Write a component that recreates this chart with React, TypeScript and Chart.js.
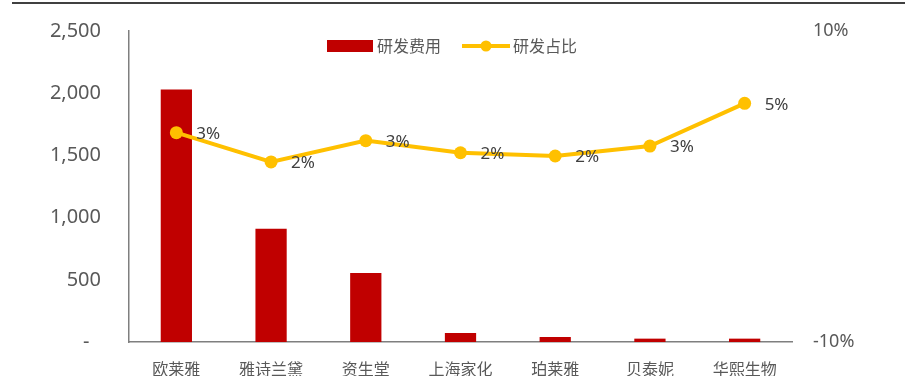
import React, { useEffect, useRef } from "react";
import { Chart, registerables } from "chart.js";
Chart.register(...registerables);

const categories = ["欧莱雅", "雅诗兰黛", "资生堂", "上海家化", "珀莱雅", "贝泰妮", "华熙生物"];
const rdExpense = [2030, 910, 555, 72, 40, 27, 27];
const rdRatio = [3.46, 1.58, 2.95, 2.17, 1.96, 2.6, 5.35];
const leftTicks = [0, 500, 1000, 1500, 2000, 2500];
const rightTicks = [-10, 10];
const seriesNames = ["研发费用", "研发占比"];

const BAR_COLOR = "#C00000";
const LINE_COLOR = "#FFC000";
const TEXT_COLOR = "#595959";
const FONT = "'Noto Sans', 'Noto Sans CJK SC', sans-serif";
const CJK_FONT = "'Noto Sans CJK SC', 'Noto Sans', sans-serif";

const decorPlugin = {
  id: "decor",
  afterDatasetsDraw(chart: any) {
    const ctx = chart.ctx;
    const meta = chart.getDatasetMeta(1);
    ctx.save();
    ctx.font = `17px ${FONT}`;
    ctx.fillStyle = "#404040";
    ctx.textAlign = "left";
    ctx.textBaseline = "middle";
    meta.data.forEach((pt: any, i: number) => {
      ctx.fillText(Math.round(rdRatio[i]) + "%", pt.x + 20, pt.y + 1.5);
    });
    ctx.restore();
  },
  afterDraw(chart: any) {
    const ctx = chart.ctx;
    ctx.save();
    ctx.fillStyle = "#404040";
    ctx.fillRect(12, 2, 893, 2);
    ctx.fillStyle = BAR_COLOR;
    ctx.fillRect(327, 40, 46, 12);
    ctx.font = `16px ${CJK_FONT}`;
    ctx.fillStyle = TEXT_COLOR;
    ctx.textAlign = "left";
    ctx.textBaseline = "middle";
    ctx.fillText(seriesNames[0], 377, 46);
    ctx.strokeStyle = LINE_COLOR;
    ctx.lineWidth = 4;
    ctx.beginPath();
    ctx.moveTo(462, 46);
    ctx.lineTo(510, 46);
    ctx.stroke();
    ctx.fillStyle = LINE_COLOR;
    ctx.beginPath();
    ctx.arc(486, 46, 5.5, 0, Math.PI * 2);
    ctx.fill();
    ctx.fillStyle = TEXT_COLOR;
    ctx.fillText(seriesNames[1], 513, 46);
    ctx.restore();
  },
};

export default function App() {
  const ref = useRef<HTMLCanvasElement | null>(null);
  useEffect(() => {
    if (!ref.current) return;
    const chart = new Chart(ref.current, {
      type: "bar",
      data: {
        labels: categories,
        datasets: [
          {
            type: "bar",
            label: seriesNames[0],
            data: rdExpense,
            backgroundColor: BAR_COLOR,
            yAxisID: "y",
            categoryPercentage: 1,
            barPercentage: 0.33,
            order: 1,
          },
          {
            type: "line",
            label: seriesNames[1],
            data: rdRatio,
            borderColor: LINE_COLOR,
            backgroundColor: LINE_COLOR,
            borderWidth: 4,
            pointRadius: 6.5,
            pointBackgroundColor: LINE_COLOR,
            pointBorderWidth: 0,
            yAxisID: "y1",
            order: 0,
          },
        ] as any,
      },
      options: {
        animation: false,
        responsive: false,
        layout: { padding: { top: 31, left: 0, right: 0, bottom: 0 } },
        plugins: { legend: { display: false }, tooltip: { enabled: false } },
        scales: {
          x: {
            grid: { display: false, drawTicks: false },
            border: { display: true, color: "#7f7f7f", width: 1.5 },
            ticks: { color: TEXT_COLOR, font: { size: 16, family: CJK_FONT }, padding: 17 },
            afterFit: (s: any) => { s.height = 34; s.paddingLeft = 0; s.paddingRight = 0; },
          },
          y: {
            position: "left",
            min: 0,
            max: 2500,
            grid: { display: false, drawTicks: false },
            border: { display: true, color: "#7f7f7f", width: 1.5 },
            afterBuildTicks: (s: any) => { s.ticks = leftTicks.map((v) => ({ value: v })); },
            ticks: {
              color: TEXT_COLOR,
              font: { size: 20, family: FONT },
              padding: 28,
              callback: (v: any) => (v === 0 ? "-\u2007" : Number(v).toLocaleString("en-US")),
            },
            afterFit: (s: any) => { s.width = 129; s.paddingTop = 0; s.paddingBottom = 0; },
          },
          y1: {
            position: "right",
            min: -10,
            max: 10,
            grid: { display: false, drawTicks: false },
            border: { display: false },
            afterBuildTicks: (s: any) => { s.ticks = rightTicks.map((v) => ({ value: v })); },
            ticks: {
              color: TEXT_COLOR,
              font: { size: 18, family: FONT },
              padding: 21,
              callback: (v: any) => v + "%",
            },
            afterFit: (s: any) => { s.width = 113; s.paddingTop = 0; s.paddingBottom = 0; },
          },
        },
      } as any,
      plugins: [decorPlugin],
    });
    return () => chart.destroy();
  }, []);
  return (
    <div style={{ position: "absolute", left: 0, top: 0, width: 905, height: 376, background: "#fff" }}>
      <canvas ref={ref} width={905} height={376} style={{ display: "block" }} />
    </div>
  );
}
